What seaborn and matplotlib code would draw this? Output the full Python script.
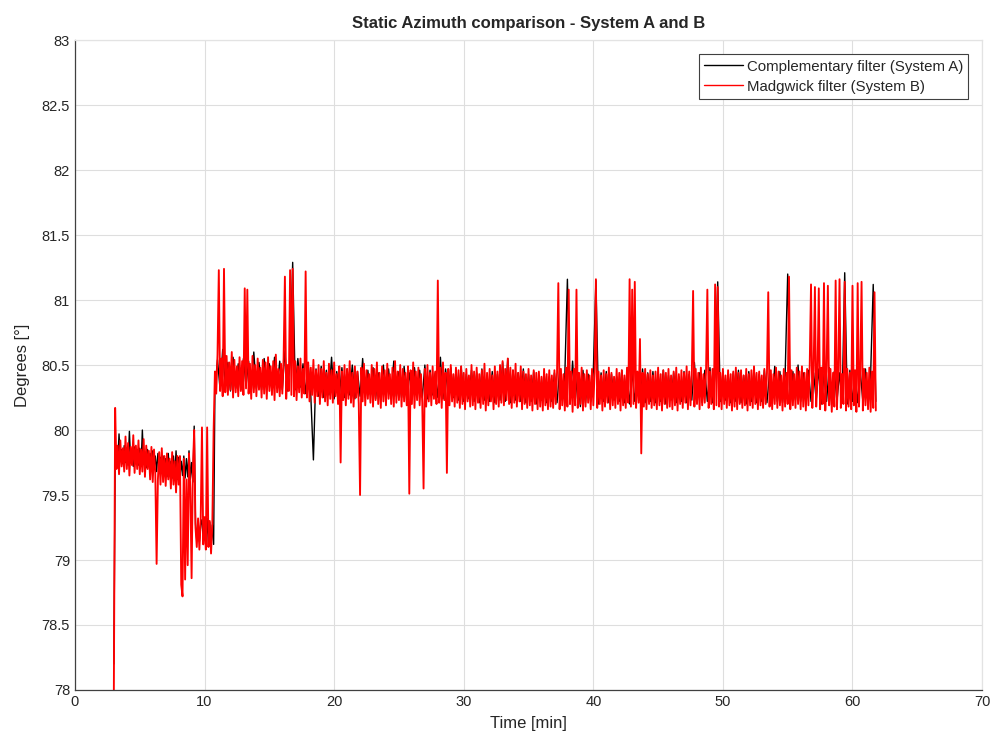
import numpy as np
import pandas as pd
import matplotlib
matplotlib.use("Agg")
import matplotlib.pyplot as plt
import seaborn as sns

# System B (Madgwick), 0.1 min samples from 3.0 min
red_early = [
    78.00, 80.17, 79.70, 79.88, 79.66, 79.92, 79.72, 79.86, 79.68, 79.95,
    79.70, 79.90, 79.65, 79.87, 79.73, 79.96, 79.67, 79.88, 79.70, 79.92,
    79.66, 79.85, 79.68, 79.93, 79.64, 79.88, 79.70, 79.84, 79.62, 79.87,
    79.60, 79.85, 79.66, 78.97, 79.62, 79.83, 79.58, 79.86, 79.60, 79.80,
    79.57, 79.82, 79.62, 79.78, 79.55, 79.83, 79.58, 79.76, 79.52, 79.80,
    79.58, 79.80, 78.81, 78.72, 79.78, 78.85, 79.62, 78.96, 79.82, 79.55,
    78.86, 79.70, 80.00, 79.25, 79.10, 79.32, 79.08, 79.30, 80.02, 79.12,
    79.33, 79.08, 80.02, 79.10, 79.30, 79.05, 79.28, 80.00,
]
# System B, 0.1 min samples from 10.8 min
red_late = [
    80.45, 80.28, 80.58, 81.23, 80.30, 80.55, 80.26, 81.24, 80.29, 80.57,
    80.27, 80.52, 80.31, 80.60, 80.25, 80.54, 80.29, 80.49, 80.26, 80.56,
    80.30, 80.53, 80.27, 81.09, 80.32, 81.08, 80.28, 80.51, 80.24, 80.57,
    80.29, 80.50, 80.26, 80.55, 80.31, 80.48, 80.25, 80.54, 80.28, 80.52,
    80.24, 80.56, 80.30, 80.49, 80.27, 80.53, 80.23, 80.58, 80.29, 80.47,
    80.26, 80.51, 80.28, 80.55, 81.18, 80.24, 80.50, 80.30, 81.23, 80.27,
    81.24, 80.26, 80.53, 80.23, 80.49, 80.29, 80.55, 80.25, 80.47, 80.28,
    81.22, 80.25, 80.52, 80.22, 80.48, 80.27, 80.54, 80.21, 80.46, 80.26,
    80.50, 80.20, 80.47, 80.25, 80.53, 80.22, 80.44, 80.19, 80.51, 80.24,
    80.46, 80.21, 80.52, 80.26, 80.43, 80.20, 80.49, 79.75, 80.45, 80.23,
    80.50, 80.19, 80.47, 80.24, 80.53, 80.21, 80.44, 80.18, 80.49, 80.25,
    80.45, 80.20, 79.50, 80.48, 80.22, 80.51, 80.19, 80.46, 80.24, 80.43,
    80.21, 80.50, 80.18, 80.47, 80.23, 80.52, 80.20, 80.44, 80.17, 80.49,
    80.22, 80.46, 80.19, 80.51, 80.24, 80.43, 80.20, 80.48, 80.18, 80.53,
    80.21, 80.45, 80.23, 80.50, 80.18, 80.47, 80.22, 80.44, 80.19, 80.49,
    79.51, 80.46, 80.20, 80.52, 80.17, 80.45, 80.23, 80.48, 80.19, 80.43,
    80.21, 79.55, 80.47, 80.18, 80.50, 80.22, 80.44, 80.19, 80.49, 80.24,
    80.45, 80.20, 81.15, 80.21, 80.48, 80.17, 80.52, 80.23, 80.44, 79.67,
    80.47, 80.19, 80.50, 80.22, 80.43, 80.18, 80.48, 80.21, 80.46, 80.17,
    80.49, 80.20, 80.44, 80.16, 80.47, 80.22, 80.42, 80.18, 80.50, 80.19,
    80.45, 80.16, 80.48, 80.21, 80.43, 80.17, 80.46, 80.20, 80.51, 80.15,
    80.44, 80.19, 80.47, 80.22, 80.42, 80.16, 80.49, 80.20, 80.45, 80.18,
    80.50, 80.21, 80.53, 80.19, 80.47, 80.23, 80.55, 80.20, 80.48, 80.17,
    80.46, 80.21, 80.51, 80.18, 80.44, 80.22, 80.49, 80.16, 80.45, 80.20,
    80.43, 80.17, 80.47, 80.19, 80.42, 80.15, 80.46, 80.20, 80.44, 80.16,
    80.45, 80.18, 80.41, 80.15, 80.47, 80.19, 80.43, 80.16, 80.46, 80.18,
    80.42, 80.17, 80.46, 80.20, 80.44, 81.13, 80.16, 80.47, 80.19, 80.43,
    80.15, 80.48, 80.18, 81.08, 80.20, 80.45, 80.14, 80.47, 80.19, 81.08,
    80.17, 80.44, 80.20, 80.48, 80.15, 80.43, 80.18, 80.46, 80.21, 80.42,
    80.16, 80.47, 80.19, 80.44, 81.16, 80.17, 80.45, 80.20, 80.42, 80.15,
    80.46, 80.18, 80.43, 80.21, 80.48, 80.16, 80.44, 80.19, 80.41, 80.17,
    80.47, 80.20, 80.44, 80.15, 80.46, 80.19, 80.42, 80.17, 80.48, 80.21,
    81.16, 80.18, 81.08, 80.20, 81.14, 80.17, 80.45, 80.21, 80.70, 79.82,
    80.44, 80.18, 80.47, 80.16, 80.43, 80.20, 80.46, 80.17, 80.42, 80.19,
    80.45, 80.16, 80.48, 80.19, 80.43, 80.15, 80.46, 80.20, 80.44, 80.17,
    80.47, 80.18, 80.42, 80.16, 80.45, 80.19, 80.48, 80.15, 80.43, 80.20,
    80.46, 80.17, 80.44, 80.21, 80.49, 80.16, 80.45, 80.19, 80.42, 81.07,
    80.18, 80.47, 80.20, 80.44, 80.16, 80.48, 80.19, 80.43, 80.21, 80.46,
    81.08, 80.17, 80.45, 80.20, 80.47, 80.16, 81.12, 80.19, 81.10, 80.18,
    80.44, 80.16, 80.47, 80.20, 80.42, 80.17, 80.46, 80.19, 80.43, 80.15,
    80.45, 80.18, 80.48, 80.16, 80.44, 80.20, 80.46, 80.17, 80.42, 80.19,
    80.47, 80.15, 80.43, 80.19, 80.46, 80.17, 80.49, 80.20, 80.44, 80.16,
    80.45, 80.19, 80.42, 80.17, 80.47, 80.20, 80.44, 81.06, 80.18, 80.46,
    80.16, 80.43, 80.20, 80.48, 80.17, 80.45, 80.19, 80.42, 80.15, 80.47,
    80.18, 80.44, 80.20, 81.18, 80.16, 80.46, 80.19, 80.43, 80.17, 80.48,
    80.20, 80.45, 80.16, 80.49, 80.18, 80.44, 80.15, 80.47, 80.19, 80.50,
    81.12, 80.17, 80.46, 81.10, 80.18, 80.44, 81.09, 80.16, 80.48, 80.20,
    81.13, 80.15, 80.45, 81.11, 80.19, 80.47, 80.14, 80.44, 80.18, 81.15,
    80.16, 80.46, 81.16, 80.17, 80.43, 80.20, 81.14, 80.15, 80.47, 80.18,
    80.44, 80.16, 81.11, 80.19, 80.46, 80.14, 81.13, 80.18, 80.45, 81.14,
    80.15, 80.47, 80.19, 80.44, 80.16, 80.48, 80.14, 80.45, 80.17, 81.06,
    80.15,
]

# System A (complementary), 0.1 min samples from 3.0 min
black_early = [
    78.20, 79.75, 79.86, 79.74, 79.97, 79.76, 79.85, 79.74, 79.88, 79.75,
    79.86, 79.73, 79.99, 79.75, 79.84, 79.72, 79.87, 79.74, 79.85, 79.73,
    79.86, 79.72, 80.00, 79.74, 79.83, 79.71, 79.85, 79.72, 79.82, 79.70,
    79.84, 79.70, 79.80, 79.68, 79.82, 79.69, 79.79, 79.67, 79.80, 79.66,
    79.78, 79.64, 79.82, 79.65, 79.76, 79.63, 79.80, 79.64, 79.84, 79.62,
    79.79, 79.64, 79.76, 79.65, 79.80, 79.63, 79.78, 79.64, 79.84, 79.62,
    79.75, 79.60, 80.03, 79.28, 79.15, 79.30, 79.14, 79.27, 79.31, 79.15,
    79.28, 79.13, 79.32, 79.12, 79.29, 79.11, 79.27, 79.12,
]
# System A, 0.2 min samples from 10.8 min
black_late = [
    80.32, 80.54, 80.31, 80.62, 80.33, 80.52, 80.30, 80.56, 80.32, 80.51,
    80.31, 80.55, 80.34, 80.53, 80.30, 80.60, 80.32, 80.52, 80.31, 80.55,
    80.33, 80.51, 80.30, 80.56, 80.32, 80.53, 80.31, 80.61, 80.30, 80.52,
    81.29, 80.31, 80.55, 80.33, 80.51, 80.28, 80.50, 80.26, 79.77, 80.47,
    80.26, 80.49, 80.25, 80.46, 80.27, 80.56, 80.24, 80.45, 80.26, 80.48,
    80.25, 80.47, 80.27, 80.50, 80.24, 80.45, 80.26, 80.55, 80.25, 80.46,
    80.27, 80.48, 80.24, 80.44, 80.26, 80.50, 80.25, 80.47, 80.24, 80.53,
    80.26, 80.45, 80.25, 80.49, 80.27, 80.44, 80.24, 80.48, 80.26, 80.46,
    80.25, 80.50, 80.24, 80.46, 80.27, 80.44, 80.25, 80.56, 80.24, 80.47,
    80.26, 80.48, 80.25, 80.45, 80.23, 80.49, 80.22, 80.43, 80.24, 80.46,
    80.22, 80.44, 80.21, 80.47, 80.23, 80.42, 80.22, 80.45, 80.21, 80.43,
    80.23, 80.52, 80.22, 80.55, 80.21, 80.46, 80.23, 80.44, 80.22, 80.47,
    80.21, 80.43, 80.22, 80.45, 80.20, 80.42, 80.23, 80.44, 80.21, 80.41,
    80.22, 80.44, 80.21, 80.46, 80.23, 80.42, 81.16, 80.20, 80.53, 80.22,
    80.44, 80.18, 80.46, 80.21, 80.43, 80.22, 80.45, 81.15, 80.20, 80.44,
    80.22, 80.45, 80.21, 80.43, 80.23, 80.41, 80.22, 80.46, 80.21, 80.44,
    80.20, 80.45, 80.22, 80.42, 80.23, 80.47, 80.21, 80.44, 80.22, 80.45,
    80.21, 80.43, 80.22, 80.46, 80.20, 80.42, 80.23, 80.44, 80.21, 80.41,
    80.22, 80.45, 80.21, 80.43, 80.23, 80.52, 80.22, 80.44, 80.21, 80.46,
    80.22, 80.48, 80.21, 80.44, 81.14, 80.22, 80.45, 80.23, 80.43, 80.21,
    80.44, 80.22, 80.46, 80.21, 80.42, 80.20, 80.45, 80.22, 80.47, 80.21,
    80.43, 80.22, 80.46, 80.21, 80.44, 80.23, 80.49, 80.22, 80.45, 80.21,
    80.42, 81.20, 80.21, 80.45, 80.23, 80.50, 80.22, 80.44, 80.21, 80.46,
    80.22, 80.44, 80.23, 80.47, 80.20, 80.43, 80.22, 80.48, 80.21, 80.45,
    80.22, 80.44, 80.21, 81.21, 80.20, 80.46, 80.22, 80.43, 80.21, 80.45,
    80.22, 80.47, 80.20, 80.43, 81.12, 80.22,
]

labels = ["Complementary filter (System A)", "Madgwick filter (System B)"]

t_early = np.round(3.0 + 0.1 * np.arange(len(red_early)), 2)
t_red_late = np.round(10.8 + 0.1 * np.arange(len(red_late)), 2)
t_black_late = np.round(10.8 + 0.2 * np.arange(len(black_late)), 2)

df_a = pd.DataFrame({"t": np.concatenate([t_early, t_black_late]),
                     "deg": black_early + black_late})
df_b = pd.DataFrame({"t": np.concatenate([t_early, t_red_late]),
                     "deg": red_early + red_late})

sns.set_style("white")
plt.rcParams["font.family"] = ["Liberation Sans", "DejaVu Sans"]

fig = plt.figure(figsize=(9.93, 7.42), dpi=100)
ax = fig.add_axes([0.0755, 0.0701, 0.9135, 0.8759])

sns.lineplot(data=df_a, x="t", y="deg", ax=ax, color="black", lw=1.0,
             estimator=None, sort=False, label=labels[0])
sns.lineplot(data=df_b, x="t", y="deg", ax=ax, color="#ff0000", lw=1.35,
             estimator=None, sort=False, label=labels[1])

ax.set_xlim(0, 70)
ax.set_ylim(78, 83)
ax.set_xticks(range(0, 71, 10))
ax.set_yticks(np.arange(78, 83.01, 0.5))
ax.set_yticklabels(["78", "78.5", "79", "79.5", "80", "80.5", "81", "81.5",
                    "82", "82.5", "83"])
ax.grid(True, color="#dedede", lw=0.8)
ax.set_axisbelow(True)
ax.tick_params(direction="in", length=5, color="#404040", labelcolor="#262626",
               labelsize=10.5, width=0.8)
for side, sp in ax.spines.items():
    sp.set_color("#404040" if side in ("left", "bottom") else "#e3e3e3")
    sp.set_linewidth(0.9)

ax.set_xlabel("Time [min]", fontsize=12, color="#262626", labelpad=5)
ax.set_ylabel("Degrees [°]", fontsize=12, color="#262626", labelpad=8)
ax.set_title("Static Azimuth comparison - System A and B", fontsize=12,
             fontweight="bold", pad=9)

leg = ax.legend(loc="upper right", bbox_to_anchor=(0.985, 0.978), fontsize=10.8,
                fancybox=False, framealpha=1, edgecolor="#404040",
                borderpad=0.35, handlelength=2.6, handletextpad=0.25,
                labelspacing=0.4, borderaxespad=0)
leg.get_frame().set_linewidth(0.8)
for line in leg.get_lines():
    line.set_linewidth(1.0)

fig.savefig("out.png", dpi=100)
